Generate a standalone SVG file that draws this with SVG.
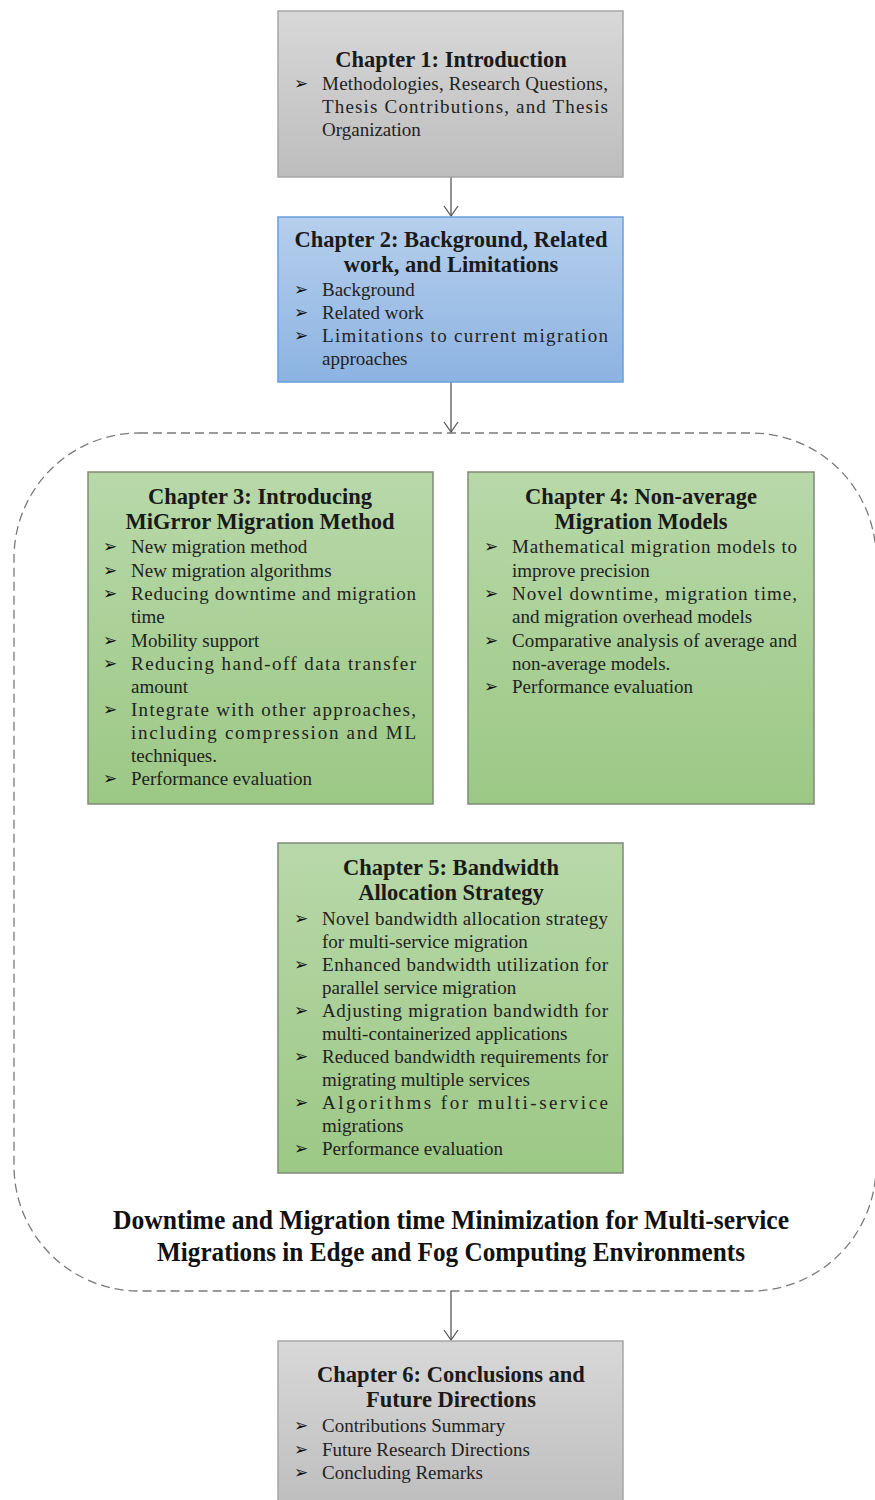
<svg xmlns="http://www.w3.org/2000/svg" width="875" height="1500" viewBox="0 0 875 1500">
  <defs>
    <linearGradient id="gGray" x1="0" y1="0" x2="0" y2="1">
      <stop offset="0" stop-color="#d8d8d8"/>
      <stop offset="1" stop-color="#bdbdbd"/>
    </linearGradient>
    <linearGradient id="gBlue" x1="0" y1="0" x2="0" y2="1">
      <stop offset="0" stop-color="#b6cfec"/>
      <stop offset="1" stop-color="#8cb3e2"/>
    </linearGradient>
    <linearGradient id="gGreen" x1="0" y1="0" x2="0" y2="1">
      <stop offset="0" stop-color="#b8d8a9"/>
      <stop offset="1" stop-color="#9cc885"/>
    </linearGradient>
    <marker id="arrow" viewBox="0 0 12 16" refX="11" refY="8" markerWidth="12" markerHeight="16" markerUnits="userSpaceOnUse" orient="auto">
      <path d="M1,1 L11,8 L1,15" fill="none" stroke="#595959" stroke-width="1.3"/>
    </marker>
  </defs>
  <style>
    .box-gray { fill: url(#gGray); stroke: #a6a6a6; stroke-width: 1.5; }
    .box-blue { fill: url(#gBlue); stroke: #6a9fdc; stroke-width: 1.5; }
    .box-green { fill: url(#gGreen); stroke: #7f8a78; stroke-width: 1.5; }
    text { font-family: 'Liberation Serif', 'DejaVu Serif', serif; }
    .head { font-weight: bold; font-size: 22.5px; fill: #1a1a1a; text-anchor: middle; }
    .body { font-size: 19px; fill: #222222; }
    .bul { font-family: 'DejaVu Sans', sans-serif; font-size: 17px; fill: #111111; }
    .title { font-weight: bold; font-size: 28px; fill: #111111; }
    .conn { stroke: #595959; stroke-width: 1.3; fill: none; }
    .frame { fill: none; stroke: #7a7a7a; stroke-width: 1.3; stroke-dasharray: 9 5; }
  </style>

  <!-- dashed frame around the core chapters -->
  <g id="core-frame">
    <rect class="frame" x="14" y="433" width="862" height="858" rx="125" ry="125"/>
    <text class="title" x="113" y="1229" textLength="676" lengthAdjust="spacingAndGlyphs">Downtime and Migration time Minimization  for Multi-service</text>
    <text class="title" x="157" y="1261" textLength="588" lengthAdjust="spacingAndGlyphs">Migrations in Edge and Fog Computing  Environments</text>
  </g>

  <!-- connectors -->
  <g id="connectors">
    <line class="conn" x1="451" y1="177" x2="451" y2="216" marker-end="url(#arrow)"/>
    <line class="conn" x1="451" y1="382" x2="451" y2="432" marker-end="url(#arrow)"/>
    <line class="conn" x1="451" y1="1291" x2="451" y2="1340" marker-end="url(#arrow)"/>
  </g>

  <!-- Chapter 1 -->
  <g id="ch1">
    <rect class="box-gray" x="278" y="11" width="345" height="166"/>
    <text class="head" x="451" y="67">Chapter 1: Introduction</text>
    <text class="bul" x="294" y="89">➢</text>
    <text class="body" x="322" y="90" textLength="286" lengthAdjust="spacing">Methodologies, Research Questions,</text>
    <text class="body" x="322" y="113" textLength="286" lengthAdjust="spacing">Thesis Contributions, and Thesis</text>
    <text class="body" x="322" y="136">Organization</text>
  </g>

  <!-- Chapter 2 -->
  <g id="ch2">
    <rect class="box-blue" x="278" y="217" width="345" height="165"/>
    <text class="head" x="451" y="247">Chapter 2: Background, Related</text>
    <text class="head" x="451" y="272">work, and Limitations</text>
    <text class="bul" x="294" y="295">➢</text>
    <text class="body" x="322" y="296">Background</text>
    <text class="bul" x="294" y="318">➢</text>
    <text class="body" x="322" y="319">Related work</text>
    <text class="bul" x="294" y="341">➢</text>
    <text class="body" x="322" y="342" textLength="286" lengthAdjust="spacing">Limitations to current migration</text>
    <text class="body" x="322" y="365">approaches</text>
  </g>

  <!-- Chapter 3 -->
  <g id="ch3">
    <rect class="box-green" x="88" y="472" width="345" height="332"/>
    <text class="head" x="260" y="504">Chapter 3: Introducing</text>
    <text class="head" x="260" y="529">MiGrror Migration Method</text>
    <text class="bul" x="103" y="552">➢</text>
    <text class="body" x="131" y="553">New migration method</text>
    <text class="bul" x="103" y="576">➢</text>
    <text class="body" x="131" y="577">New migration algorithms</text>
    <text class="bul" x="103" y="599">➢</text>
    <text class="body" x="131" y="600" textLength="285" lengthAdjust="spacing">Reducing downtime and migration</text>
    <text class="body" x="131" y="623">time</text>
    <text class="bul" x="103" y="646">➢</text>
    <text class="body" x="131" y="647">Mobility support</text>
    <text class="bul" x="103" y="669">➢</text>
    <text class="body" x="131" y="670" textLength="285" lengthAdjust="spacing">Reducing hand-off data transfer</text>
    <text class="body" x="131" y="693">amount</text>
    <text class="bul" x="103" y="715">➢</text>
    <text class="body" x="131" y="716" textLength="285" lengthAdjust="spacing">Integrate with other approaches,</text>
    <text class="body" x="131" y="739" textLength="285" lengthAdjust="spacing">including compression and ML</text>
    <text class="body" x="131" y="762">techniques.</text>
    <text class="bul" x="103" y="784">➢</text>
    <text class="body" x="131" y="785">Performance evaluation</text>
  </g>

  <!-- Chapter 4 -->
  <g id="ch4">
    <rect class="box-green" x="468" y="472" width="346" height="332"/>
    <text class="head" x="641" y="504">Chapter 4: Non-average</text>
    <text class="head" x="641" y="529">Migration Models</text>
    <text class="bul" x="484" y="552">➢</text>
    <text class="body" x="512" y="553" textLength="285" lengthAdjust="spacing">Mathematical migration models to</text>
    <text class="body" x="512" y="577">improve precision</text>
    <text class="bul" x="484" y="599">➢</text>
    <text class="body" x="512" y="600" textLength="285" lengthAdjust="spacing">Novel downtime, migration time,</text>
    <text class="body" x="512" y="623">and migration overhead models</text>
    <text class="bul" x="484" y="646">➢</text>
    <text class="body" x="512" y="647" textLength="285" lengthAdjust="spacing">Comparative analysis of average and</text>
    <text class="body" x="512" y="670">non-average models.</text>
    <text class="bul" x="484" y="692">➢</text>
    <text class="body" x="512" y="693">Performance evaluation</text>
  </g>

  <!-- Chapter 5 -->
  <g id="ch5">
    <rect class="box-green" x="278" y="843" width="345" height="330"/>
    <text class="head" x="451" y="875">Chapter 5: Bandwidth</text>
    <text class="head" x="451" y="900">Allocation Strategy</text>
    <text class="bul" x="294" y="924">➢</text>
    <text class="body" x="322" y="925" textLength="286" lengthAdjust="spacing">Novel bandwidth allocation strategy</text>
    <text class="body" x="322" y="948">for multi-service migration</text>
    <text class="bul" x="294" y="970">➢</text>
    <text class="body" x="322" y="971" textLength="286" lengthAdjust="spacing">Enhanced bandwidth utilization for</text>
    <text class="body" x="322" y="994">parallel service migration</text>
    <text class="bul" x="294" y="1016">➢</text>
    <text class="body" x="322" y="1017" textLength="286" lengthAdjust="spacing">Adjusting migration bandwidth for</text>
    <text class="body" x="322" y="1040">multi-containerized applications</text>
    <text class="bul" x="294" y="1062">➢</text>
    <text class="body" x="322" y="1063" textLength="286" lengthAdjust="spacing">Reduced bandwidth requirements for</text>
    <text class="body" x="322" y="1086">migrating multiple services</text>
    <text class="bul" x="294" y="1108">➢</text>
    <text class="body" x="322" y="1109" textLength="286" lengthAdjust="spacing">Algorithms for multi-service</text>
    <text class="body" x="322" y="1132">migrations</text>
    <text class="bul" x="294" y="1154">➢</text>
    <text class="body" x="322" y="1155">Performance evaluation</text>
  </g>

  <!-- Chapter 6 -->
  <g id="ch6">
    <rect class="box-gray" x="278" y="1341" width="345" height="170"/>
    <text class="head" x="451" y="1382">Chapter 6: Conclusions and</text>
    <text class="head" x="451" y="1407">Future Directions</text>
    <text class="bul" x="294" y="1431">➢</text>
    <text class="body" x="322" y="1432">Contributions Summary</text>
    <text class="bul" x="294" y="1455">➢</text>
    <text class="body" x="322" y="1456">Future Research Directions</text>
    <text class="bul" x="294" y="1478">➢</text>
    <text class="body" x="322" y="1479">Concluding Remarks</text>
  </g>
</svg>
